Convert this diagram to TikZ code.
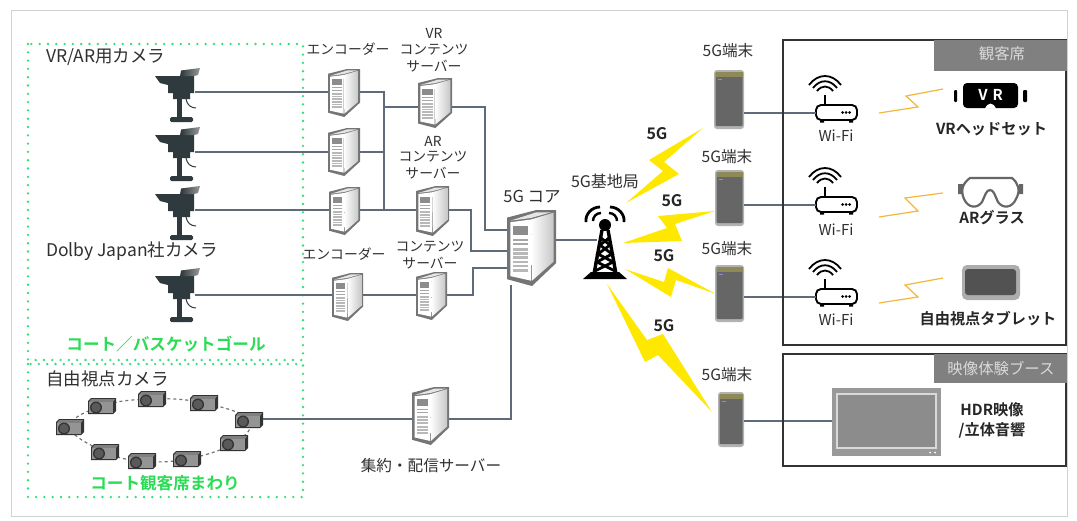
\documentclass[tikz,border=0pt]{standalone}
\usepackage{fontspec}
\setmainfont{Noto Sans CJK JP}[BoldFont={Noto Sans CJK JP Bold}]
\usetikzlibrary{calc}
\definecolor{wire}{HTML}{5F6B78}
\definecolor{txt}{HTML}{303030}
\definecolor{gdot}{HTML}{35DD78}
\definecolor{gtext}{HTML}{2BDD55}
\definecolor{camdark}{HTML}{2F3A3E}
\definecolor{bolt}{HTML}{FFE800}
\definecolor{zig}{HTML}{F5B63C}
\definecolor{hdr}{HTML}{808080}
\definecolor{srvline}{HTML}{666666}
\tikzset{
  wireline/.style={draw=wire,line width=1.3pt},
  anchorbox/.style={inner sep=0pt,outer sep=0pt,minimum height=1pt},
  lbl/.style={inner sep=0pt,text=txt,font=\fontsize{13.8}{16}\selectfont,anchor=center},
  termlbl/.style={inner sep=0pt,text=txt,font=\fontsize{15.6}{18}\selectfont,anchor=center},
  biglbl/.style={inner sep=0pt,text=txt,font=\fontsize{17.5}{20}\selectfont,anchor=west},
  blbl/.style={inner sep=0pt,text=black!85,font=\fontsize{15.2}{18}\selectfont\bfseries,anchor=center},
  glbl/.style={inner sep=0pt,text=gtext,font=\fontsize{16.6}{20}\selectfont\bfseries,anchor=center},
  hlbl/.style={inner sep=0pt,text=white!85!black,font=\fontsize{15.4}{18}\selectfont,anchor=center},
  fglbl/.style={inner sep=0pt,text=black!85,font=\fontsize{16}{18}\selectfont\bfseries,anchor=center},
  wlbl/.style={inner sep=0pt,text=txt,font=\fontsize{15}{18}\selectfont,anchor=center},
  dotbox/.style={draw=gdot,line width=2.6pt,line cap=round,dash pattern=on 0pt off 8.3pt},
  blackbox/.style={draw=black!80,line width=1.6pt},
  boltshape/.style={fill=bolt,draw=none},
  zigline/.style={draw=zig,line width=1.2pt},
}
% server: name, left x, top y, width, height, wire y
\newcommand{\srvicon}[6]{%
  \node[anchorbox,minimum width=#4 pt] (#1) at ({#2+.5*#4},#6) {};
  \begin{scope}[shift={(#2,#3)},x=#4pt,y=-#5pt]
    \fill[srvline!90] (0,.10)--(.6,0)--(1,0)--(1,.70)--(.51,1)--(0,.91)--cycle;
    \fill[white] (.07,.16)--(.49,.125)--(.49,.93)--(.07,.87)--cycle;
    \shade[left color=white,right color=black!22] (.49,.125)--(.95,.035)--(.95,.68)--(.51,.93)--cycle;
    \fill[black!10] (.07,.14)--(.49,.105)--(.90,.03)--(.6,.03)--cycle;
    \fill[black!45] (.13,.21) rectangle (.43,.33);
    \foreach \yy in {.38,.43}{\fill[black!35] (.13,\yy) rectangle (.43,\yy+.025);}
    \foreach \yy in {.50,.555,.61,.665,.72,.775}{\fill[black!28] (.13,\yy) rectangle (.43,\yy+.035);}
  \end{scope}}
% camera: name, left x, top y, wire y
\newcommand{\camicon}[4]{%
  \node[anchorbox,minimum width=40pt] (#1) at (#2+20,#4) {};
  \begin{scope}[shift={(#2,#3)}]
    \fill[camdark] (0,8)--(25,8)--(26,3)--(39,3)--(39,25)--(35,25)--(35,31)--(18,31)--(18,25)--(13,25)--(13,17)--(5,15)--cycle;
    \shade[left color=camdark,right color=black!40] (26,2.5)--(45,0)--(43,7)--(39,8)--(26,8)--cycle;
    \fill[camdark] (22,31) rectangle (27,49);
    \fill[camdark,rounded corners=1.5pt] (15,49) rectangle (38,54);
    \draw[camdark,line width=1pt] (31,31) .. controls (32,37) and (36,40) .. (41,40);
  \end{scope}}
% phone: name, left, top, width, height, wire y
\newcommand{\phoneicon}[6]{%
  \node[anchorbox,minimum width=#4 pt] (#1) at ({#2+.5*#4},#6) {};
  \fill[black!30,rounded corners=3pt] (#2,#3) rectangle ++(#4,#5);
  \fill[black!60,rounded corners=1pt] ({#2+1.5},{#3+2}) rectangle ({#2+#4-1.5},{#3+#5-3});
  \fill[olive!55!black!70] ({#2+1.5},{#3+2}) rectangle ({#2+#4-1.5},{#3+6.5});
  \fill[black!35!blue!45] ({#2+4},{#3+9}) rectangle ++(4,1.2);}
% router: name, left x, top of body y, wire y
\newcommand{\wifiicon}[4]{%
  \node[anchorbox,minimum width=41pt] (#1) at (#2+20.5,#4) {};
  \begin{scope}[shift={(#2,#3)}]
    \draw[black,line width=1.9pt,rounded corners=5pt] (0,0) rectangle (41,15);
    \draw[black,line width=1.9pt] (9,0) -- (9,-10);
    \fill[black] (4,15) rectangle (8,17.5) (33,15) rectangle (37,17.5);
    \foreach \xx in {26.5,30,33.5}{\fill[black] (\xx,7.5) circle (1.5);}
    \draw[black,line width=1.8pt] (-7,-20) .. controls (2,-32) and (16,-32) .. (25,-20);
    \draw[black,line width=1.8pt] (-3,-17) .. controls (4,-26) and (14,-26) .. (21,-17);
    \draw[black,line width=1.8pt] (1,-14) .. controls (6,-20) and (12,-20) .. (17,-14);
  \end{scope}}
% small free-view camera: centre x, y
\newcommand{\fvcam}[2]{%
  \begin{scope}[shift={(#1,#2)}]
    \fill[black!80] (-14,-5)--(-11,-8)--(14,-8)--(14,5)--(11,8)--(-14,8)--cycle;
    \fill[black!50] (-13,-4) -- (-10.5,-7) -- (13,-7) -- (11,-4) -- cycle;
    \fill[black!42] (-13,-4) rectangle (11,7);
    \fill[black!80] (-6,1.5) circle (6);
    \fill[black!65] (-6,1.5) circle (4.7);
  \end{scope}}
\begin{document}
\begin{tikzpicture}[x=1pt,y=-1pt]
\useasboundingbox (0,0) rectangle (1077,520);
\fill[white] (0,0) rectangle (1077,520);
\draw[black!18,line width=1pt] (11,10) rectangle (1067,516);
% dotted zones
\draw[dotbox] (28,44) rectangle (303,360);
\draw[dotbox] (28,364) rectangle (303,497);
% free view ring
\draw[black!55,line width=1.2pt,dashed] plot[smooth cycle,tension=.7] coordinates {(70,427)(102,406)(152,399)(204,403)(249,420)(234,443)(187,459)(142,461)(105,452)};
\fvcam{70}{427}\fvcam{102}{406}\fvcam{152}{399}\fvcam{204}{403}\fvcam{249}{420}
\fvcam{234}{443}\fvcam{187}{459}\fvcam{142}{461}\fvcam{105}{452}
\node[anchorbox,minimum width=1pt] (fv) at (263,419) {};
% cameras
\camicon{cam1}{155}{68}{92}
\camicon{cam2}{155}{127}{152}
\camicon{cam3}{155}{186}{210}
\camicon{cam4}{155}{268}{295}
% servers
\srvicon{enc1}{328}{69}{32}{48}{92}
\srvicon{enc2}{328}{128}{32}{48}{152}
\srvicon{enc3}{329}{187}{31}{48}{210}
\srvicon{enc4}{332}{273}{31}{48}{295}
\srvicon{vr}{418}{78}{34}{50}{107}
\srvicon{ar}{416}{186}{33}{50}{210}
\srvicon{cs}{416}{272}{31}{48}{295}
\srvicon{agg}{412}{387}{37}{58}{419}
\srvicon{core}{507}{210}{49}{76}{240}
% tower
\node[anchorbox,minimum width=8pt] (tower) at (601,240) {};
\fill[black] (583,279)--(627,279)--(619,272)--(591,272)--cycle;
\fill[black] (605,225) circle (6);
\draw[black,line width=3.4pt] (602,230)--(594,274) (608,230)--(616,274);
\draw[black,line width=2.8pt] (601,238)--(610,245)--(598,254)--(613,262)--(595,271)  (609,238)--(600,245)--(612,254)--(597,262)--(615,271);
\draw[black,line width=2.8pt] (586,222) .. controls (585,214) and (592,207) .. (600,207);
\draw[black,line width=2.8pt] (624,222) .. controls (625,214) and (618,207) .. (610,207);
\draw[black,line width=2.4pt] (593,221) .. controls (593,217) and (596,213) .. (601,213);
\draw[black,line width=2.4pt] (617,221) .. controls (617,217) and (614,213) .. (609,213);
% phones
\phoneicon{ph1}{714}{70}{30}{59}{113}
\phoneicon{ph2}{715}{170}{29}{56}{205}
\phoneicon{ph3}{715}{265}{29}{57}{297}
\phoneicon{ph4}{718}{392}{26}{55}{421}
% routers
\wifiicon{r1}{816}{105}{113}
\wifiicon{r2}{816}{197}{205}
\wifiicon{r3}{816}{289}{297}
% TV
\fill[black!40] (832,388) rectangle (941,456);
\fill[white!85!black] (836,393) rectangle (937,449);
\fill[black!45] (838,395) rectangle (935,447);
\fill[white] (930,452.5) circle (1) (935,452.5) circle (1);
\node[anchorbox,minimum width=109pt] (tv) at (886.5,421) {};
% connectors
\coordinate (busB) at (384,210);
\coordinate (coreA) at (507,230);
\coordinate (coreB) at (507,251);
\coordinate (coreC) at (507,268);
\coordinate (coreD) at (511,285);
\draw[wireline] (cam1.east)--(enc1.west);
\draw[wireline] (cam2.east)--(enc2.west);
\draw[wireline] (cam3.east)--(enc3.west);
\draw[wireline] (cam4.east)--(enc4.west);
\draw[wireline] (enc1.east) -| (busB);
\draw[wireline] (enc2.east)--(enc2.east -| busB);
\draw[wireline] (enc3.east)--(ar.west);
\draw[wireline] (vr.west -| busB)--(vr.west);
\draw[wireline] (enc4.east)--(cs.west);
\draw[wireline] (vr.east)--++(33,0) |- (coreA);
\draw[wireline] (ar.east)--++(22,0) |- (coreB);
\draw[wireline] (cs.east)--++(26,0) |- (coreC);
\draw[wireline] (coreD) |- (agg.east);
\draw[wireline] (fv.center)--(agg.west);
\draw[wireline] (core.east)--(tower.west);
\draw[wireline] (ph1.east)--(r1.west);
\draw[wireline] (ph2.east)--(r2.west);
\draw[wireline] (ph3.east)--(r3.west);
\draw[wireline] (ph4.east)--(tv.west);
% bolts
\fill[boltshape] (703,128)--(649,160)--(663,171)--(626,203)--(679,174)--(664,162)--cycle;
\fill[boltshape] (715,211)--(658,216)--(667,228)--(623,243)--(682,241)--(675,224)--cycle;
\fill[boltshape] (625,269)--(671,297)--(676,280)--(716,294)--(668,268)--(664,282)--cycle;
\fill[boltshape] (607,284)--(647,340)--(663,334)--(712,412)--(658,355)--(645,362)--cycle;
% wireless zigzags
\draw[zigline] (879,113)--(918,107)--(906,96)--(943,89);
\draw[zigline] (879,217)--(918,211)--(905,198)--(943,193);
\draw[zigline] (879,303)--(918,297)--(905,285)--(943,278);
% right panels
\draw[blackbox] (783,40) rectangle (1066,345);
\draw[blackbox] (783,354) rectangle (1066,466);
\fill[hdr] (934,40) rectangle (1066.8,71);
\fill[hdr] (934,354) rectangle (1066.8,383);
% headset
\fill[black,rounded corners=4pt] (963,83) rectangle (1018,108);
\fill[white] (985,108.5) .. controls (988,102) and (993,102) .. (996,108.5) -- cycle;
\fill[black,rounded corners=1pt] (954,90) rectangle (957,102) (1023,90) rectangle (1027,102);
% goggles
\fill[black!60] (958,184) rectangle (963,194) (1019,184) rectangle (1023,194);
\draw[black!60,line width=2.2pt,line join=round] (970,178)--(1012,178) .. controls (1018,183) and (1021,190) .. (1016,199) .. controls (1012,208) and (1003,209) .. (998,202) .. controls (995,196) and (994,190) .. (990,190) .. controls (986,190) and (985,196) .. (982,202) .. controls (977,209) and (968,208) .. (964,199) .. controls (960,190) and (963,183) .. (970,178) -- cycle;
% tablet
\fill[black!32,rounded corners=5pt] (962,265) rectangle (1020,300);
\fill[black!68,rounded corners=3pt] (965,269) rectangle (1016,295);
% texts
\node[biglbl] (t1) at (46,57) {VR/AR用カメラ};
\node[biglbl] (t2) at (46,251) {Dolby Japan社カメラ};
\node[biglbl] (t3) at (46,379) {自由視点カメラ};
\node[glbl] (t4) at (166,344) {コート／バスケットゴール};
\node[glbl] (t5) at (165,483) {コート観客席まわり};
\node[lbl] (t6) at (348,49) {エンコーダー};
\node[lbl] (t7) at (344,254) {エンコーダー};
\node[lbl] (t8) at (434,33) {VR};
\node[lbl] (t9) at (434,50) {コンテンツ};
\node[lbl] (t10) at (434,66) {サーバー};
\node[lbl] (t11) at (433,141) {AR};
\node[lbl] (t12) at (433,157) {コンテンツ};
\node[lbl] (t13) at (433,173) {サーバー};
\node[lbl] (t14) at (430,247) {コンテンツ};
\node[lbl] (t15) at (430,263) {サーバー};
\node[lbl,font=\fontsize{15.6}{18}\selectfont] (t16) at (431,466) {集約・配信サーバー};
\node[lbl,font=\fontsize{16.5}{18}\selectfont] (t17) at (532,197) {5G コア};
\node[lbl,font=\fontsize{16}{18}\selectfont] (t18) at (605,181) {5G基地局};
\node[termlbl] (t19) at (728,51) {5G端末};
\node[termlbl] (t20) at (727,157) {5G端末};
\node[termlbl] (t21) at (727,249) {5G端末};
\node[termlbl] (t22) at (727,375) {5G端末};
\node[fglbl] (g1) at (657,134) {5G};
\node[fglbl] (g2) at (672,201) {5G};
\node[fglbl] (g3) at (664,256) {5G};
\node[fglbl] (g4) at (664,326) {5G};
\node[wlbl] (w1) at (836,136) {Wi-Fi};
\node[wlbl] (w2) at (836,230) {Wi-Fi};
\node[wlbl] (w3) at (836,320) {Wi-Fi};
\node[blbl] (b1) at (991.5,129) {VRヘッドセット};
\node[blbl] (b2) at (992,218) {ARグラス};
\node[blbl] (b3) at (988,319) {自由視点タブレット};
\node[blbl] (b4) at (992,410) {HDR映像};
\node[blbl] (b5) at (992,430) {/立体音響};
\node[hlbl] (h1) at (1002,54) {観客席};
\node[hlbl] (h2) at (1001,369) {映像体験ブース};
\node[inner sep=0pt,text=white,font=\fontsize{15}{16}\selectfont\bfseries] (vrt) at (990.5,95) {V\,\,R};
\end{tikzpicture}
\end{document}
